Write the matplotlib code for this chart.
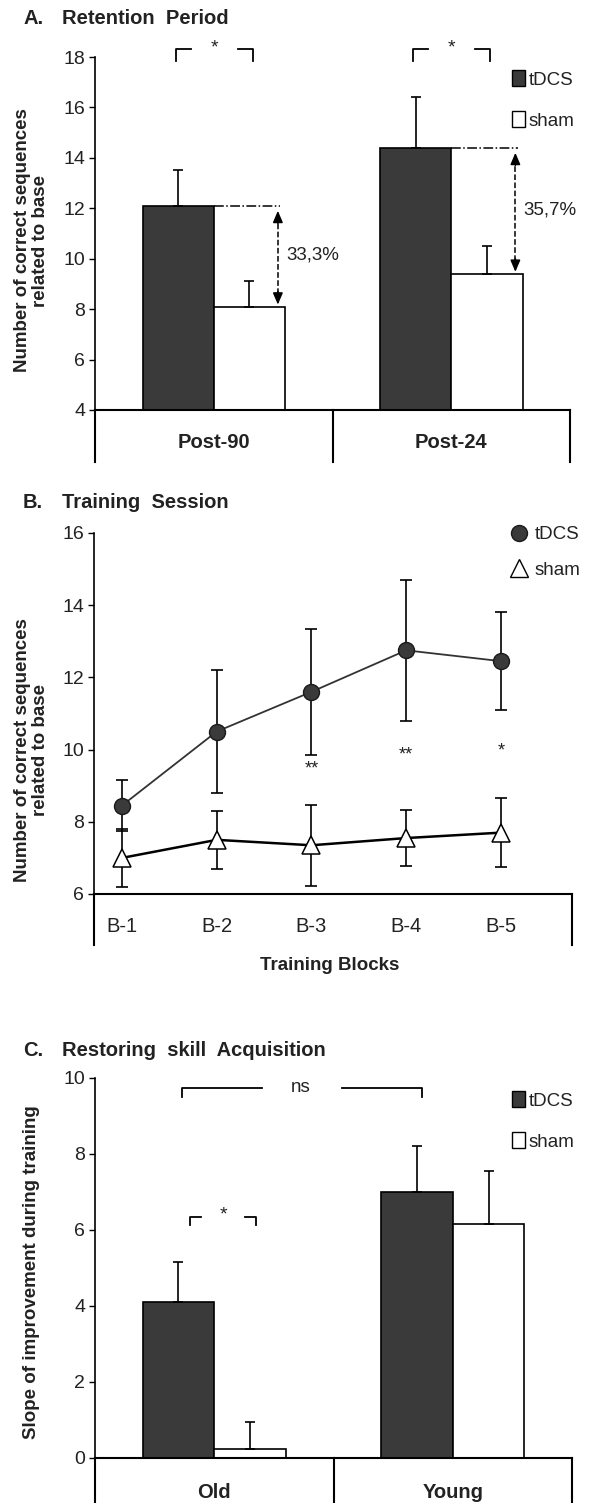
import matplotlib
matplotlib.use("Agg")
import matplotlib.pyplot as plt
import matplotlib.transforms as mtransforms
from matplotlib.patches import Patch
from matplotlib.lines import Line2D

plt.rcParams['font.family'] = ['Liberation Sans', 'DejaVu Sans']

# A. retention period
periods = ['Post-90', 'Post-24']
ret_tdcs = [12.1, 14.4]
ret_tdcs_err = [1.4, 2.0]
ret_sham = [8.1, 9.4]
ret_sham_err = [1.0, 1.1]
ret_gain = ['33,3%', '35,7%']

# B. training session
blocks = ['B-1', 'B-2', 'B-3', 'B-4', 'B-5']
train_tdcs = [8.45, 10.5, 11.6, 12.75, 12.45]
train_tdcs_err = [0.7, 1.7, 1.75, 1.95, 1.35]
train_sham = [7.0, 7.5, 7.35, 7.55, 7.7]
train_sham_err = [0.8, 0.8, 1.12, 0.78, 0.95]
train_sig = ['', '', '**', '**', '*']

# C. skill acquisition
groups = ['Old', 'Young']
slope_tdcs = [4.1, 7.0]
slope_tdcs_err = [1.05, 1.2]
slope_sham = [0.25, 6.15]
slope_sham_err = [0.7, 1.4]

DARK = '#3a3a3a'
TXT = '#222222'
W, H = 591, 1503
BW = 0.3

fig = plt.figure(figsize=(W / 100, H / 100), dpi=100)


def px_axes(l, t, r, b):
    return fig.add_axes([l / W, 1 - b / H, (r - l) / W, (b - t) / H])


def style(ax):
    for s in ['top', 'right']:
        ax.spines[s].set_visible(False)
    ax.spines['left'].set_linewidth(1.2)
    ax.spines['bottom'].set_linewidth(1.5)
    ax.tick_params(axis='y', direction='out', length=4, width=1, labelsize=14,
                   labelcolor=TXT, pad=3)
    ax.tick_params(axis='x', length=0, labelbottom=False)


def cat_box(ax, depth, divider=True):
    kw = dict(transform=ax.transAxes, clip_on=False, color='k', lw=1.5)
    xs = [0, 0.5, 1] if divider else [0, 1]
    for x in xs:
        ax.plot([x, x], [0, -depth], **kw)


def bracket(ax, x0, x1, y, leg, seg, label):
    kw = dict(color='k', lw=1.3, clip_on=False)
    ax.plot([x0, x0, x0 + seg], [y - leg, y, y], **kw)
    ax.plot([x1 - seg, x1, x1], [y, y, y - leg], **kw)
    ax.text((x0 + x1) / 2, y + 0.05, label, ha='center', va='center',
            fontsize=14, color=TXT)


def title(y, letter, text):
    fig.text(23 / W, 1 - y / H, letter, ha='left', va='center', fontsize=14.5,
             fontweight='bold', color=TXT)
    fig.text(62 / W, 1 - y / H, text, ha='left', va='center', fontsize=14.5,
             fontweight='bold', color=TXT)


def bar_pair(ax, a, a_err, b, b_err):
    x = list(range(len(a)))
    ekw = dict(elinewidth=1.2, capthick=1.2, ecolor='k')
    ax.bar([i - BW / 2 for i in x], a, BW, color=DARK, edgecolor='k', lw=1.2,
           yerr=[[0] * len(a), a_err], capsize=3.5, error_kw=ekw, zorder=2)
    ax.bar([i + BW / 2 for i in x], b, BW, color='white', edgecolor='k', lw=1.2,
           yerr=[[0] * len(b), b_err], capsize=3.5, error_kw=ekw, zorder=2)


def bar_legend(ax, x, y):
    ax.legend(handles=[Patch(fc=DARK, ec='k'), Patch(fc='white', ec='k')],
              labels=['tDCS', 'sham'], loc='upper left', bbox_to_anchor=(x, y),
              frameon=False, handlelength=0.7, handleheight=0.95, handletextpad=0.2,
              labelspacing=1.2, fontsize=13.5, borderpad=0, borderaxespad=0,
              labelcolor=TXT)


# ---------------- A ----------------
axA = px_axes(95, 57, 570, 410)
style(axA)
axA.set_ylim(4, 18)
axA.set_xlim(-0.5, 1.5)
axA.set_yticks(range(4, 19, 2))
bar_pair(axA, ret_tdcs, ret_tdcs_err, ret_sham, ret_sham_err)
cat_box(axA, 52 / 353)
ta = mtransforms.blended_transform_factory(axA.transData, axA.transAxes)
for i, p in enumerate(periods):
    axA.text(i, -(443 - 410) / 353, p, transform=ta, ha='center', va='center',
             fontsize=14.5, fontweight='bold', color=TXT)
for i in range(2):
    bracket(axA, i - 0.16, i + 0.165, 18.32, 0.48, 0.063, '*')
    xa = i + 0.27
    top, bot = ret_tdcs[i], ret_sham[i]
    axA.plot([i, xa + 0.01], [top, top], ls='-.', color='k', lw=1.1)
    axA.plot([xa, xa], [bot + 0.5, top - 0.6], ls='--', color='k', lw=1.1)
    ak = dict(arrowstyle='-|>,head_length=0.7,head_width=0.3', color='k', lw=1.1,
              shrinkA=0, shrinkB=0)
    axA.annotate('', xy=(xa, top - 0.2), xytext=(xa, top - 0.7), arrowprops=ak)
    axA.annotate('', xy=(xa, bot + 0.08), xytext=(xa, bot + 0.6), arrowprops=ak)
    axA.text(xa + 0.035, (top + bot) / 2 + 0.05, ret_gain[i], ha='left',
             va='center', fontsize=13.5, color=TXT)
bar_legend(axA, (512 - 95) / 475, 1 - (70 - 57) / 353)
axA.set_ylabel('Number of correct sequences\nrelated to base', fontsize=13.5,
               fontweight='bold', color=TXT, linespacing=1.05)
axA.yaxis.set_label_coords(-0.097, 0.48)
title(18, 'A.', 'Retention  Period')

# ---------------- B ----------------
axB = px_axes(94, 533, 572, 894)
style(axB)
axB.set_ylim(6, 16)
axB.set_xlim(0.705, 5.75)
axB.set_yticks(range(6, 17, 2))
xb = list(range(1, len(blocks) + 1))
axB.errorbar(xb, train_tdcs, yerr=train_tdcs_err, fmt='none', ecolor='k',
             elinewidth=1.2, capsize=4.5, capthick=1.2, zorder=2)
axB.errorbar(xb, train_sham, yerr=train_sham_err, fmt='none', ecolor='k',
             elinewidth=1.2, capsize=4.5, capthick=1.2, zorder=2)
axB.plot(xb, train_tdcs, color='#333333', lw=1.3, marker='o', ms=11.5,
         mfc=DARK, mec='#1a1a1a', mew=1, zorder=3, clip_on=False)
axB.plot(xb, train_sham, color='k', lw=1.8, marker='^', ms=13,
         mfc='white', mec='k', mew=1.1, zorder=3, clip_on=False)
sig_y = [0, 0, 9.45, 9.85, 9.95]
for i, s in enumerate(train_sig):
    if s:
        axB.text(xb[i], sig_y[i], s, ha='center', va='center', fontsize=13, color=TXT)
cat_box(axB, 51 / 361, divider=False)
tb = mtransforms.blended_transform_factory(axB.transData, axB.transAxes)
for i, b in enumerate(blocks):
    axB.text(xb[i], -(927 - 894) / 361, b, transform=tb, ha='center', va='center',
             fontsize=14.5, color=TXT)
fig.text(330 / W, 1 - 965 / H, 'Training Blocks', ha='center', va='center',
         fontsize=13.5, fontweight='bold', color=TXT)
axB.legend(handles=[Line2D([], [], ls='none', marker='o', ms=11.5, mfc=DARK, mec='#1a1a1a'),
                    Line2D([], [], ls='none', marker='^', ms=13, mfc='white', mec='k')],
           labels=['tDCS', 'sham'], loc='upper left',
           bbox_to_anchor=((510 - 94) / 478, 1 + (533 - 526) / 361),
           frameon=False, handlelength=1.0, handletextpad=0.3, labelspacing=1.0,
           fontsize=13.5, borderpad=0, borderaxespad=0, labelcolor=TXT)
axB.set_ylabel('Number of correct sequences\nrelated to base', fontsize=13.5,
               fontweight='bold', color=TXT, linespacing=1.05)
axB.yaxis.set_label_coords(-0.094, 0.40)
title(503, 'B.', 'Training  Session')

# ---------------- C ----------------
axC = px_axes(95, 1078, 572, 1458)
style(axC)
axC.set_ylim(0, 10)
axC.set_xlim(-0.5, 1.5)
axC.set_yticks(range(0, 11, 2))
bar_pair(axC, slope_tdcs, slope_tdcs_err, slope_sham, slope_sham_err)
cat_box(axC, 60 / 380)
tc = mtransforms.blended_transform_factory(axC.transData, axC.transAxes)
for i, g in enumerate(groups):
    axC.text(i, -(1492 - 1458) / 380, g, transform=tc, ha='center', va='center',
             fontsize=14.5, fontweight='bold', color=TXT)
bracket(axC, -0.10, 0.175, 6.34, 0.21, 0.045, '*')
kw = dict(color='k', lw=1.3, clip_on=False)
axC.plot([-0.135, -0.135, 0.20], [9.5, 9.74, 9.74], **kw)
axC.plot([0.536, 0.871, 0.871], [9.74, 9.74, 9.5], **kw)
axC.text(0.364, 9.76, 'ns', ha='center', va='center', fontsize=13.5, color=TXT)
bar_legend(axC, (512 - 95) / 477, 1 - (1091 - 1078) / 380)
axC.set_ylabel('Slope of improvement during training', fontsize=13.5,
               fontweight='bold', color=TXT)
axC.yaxis.set_label_coords(-0.115, 0.49)
title(1050, 'C.', 'Restoring  skill  Acquisition')

fig.savefig('out.png', dpi=100)
